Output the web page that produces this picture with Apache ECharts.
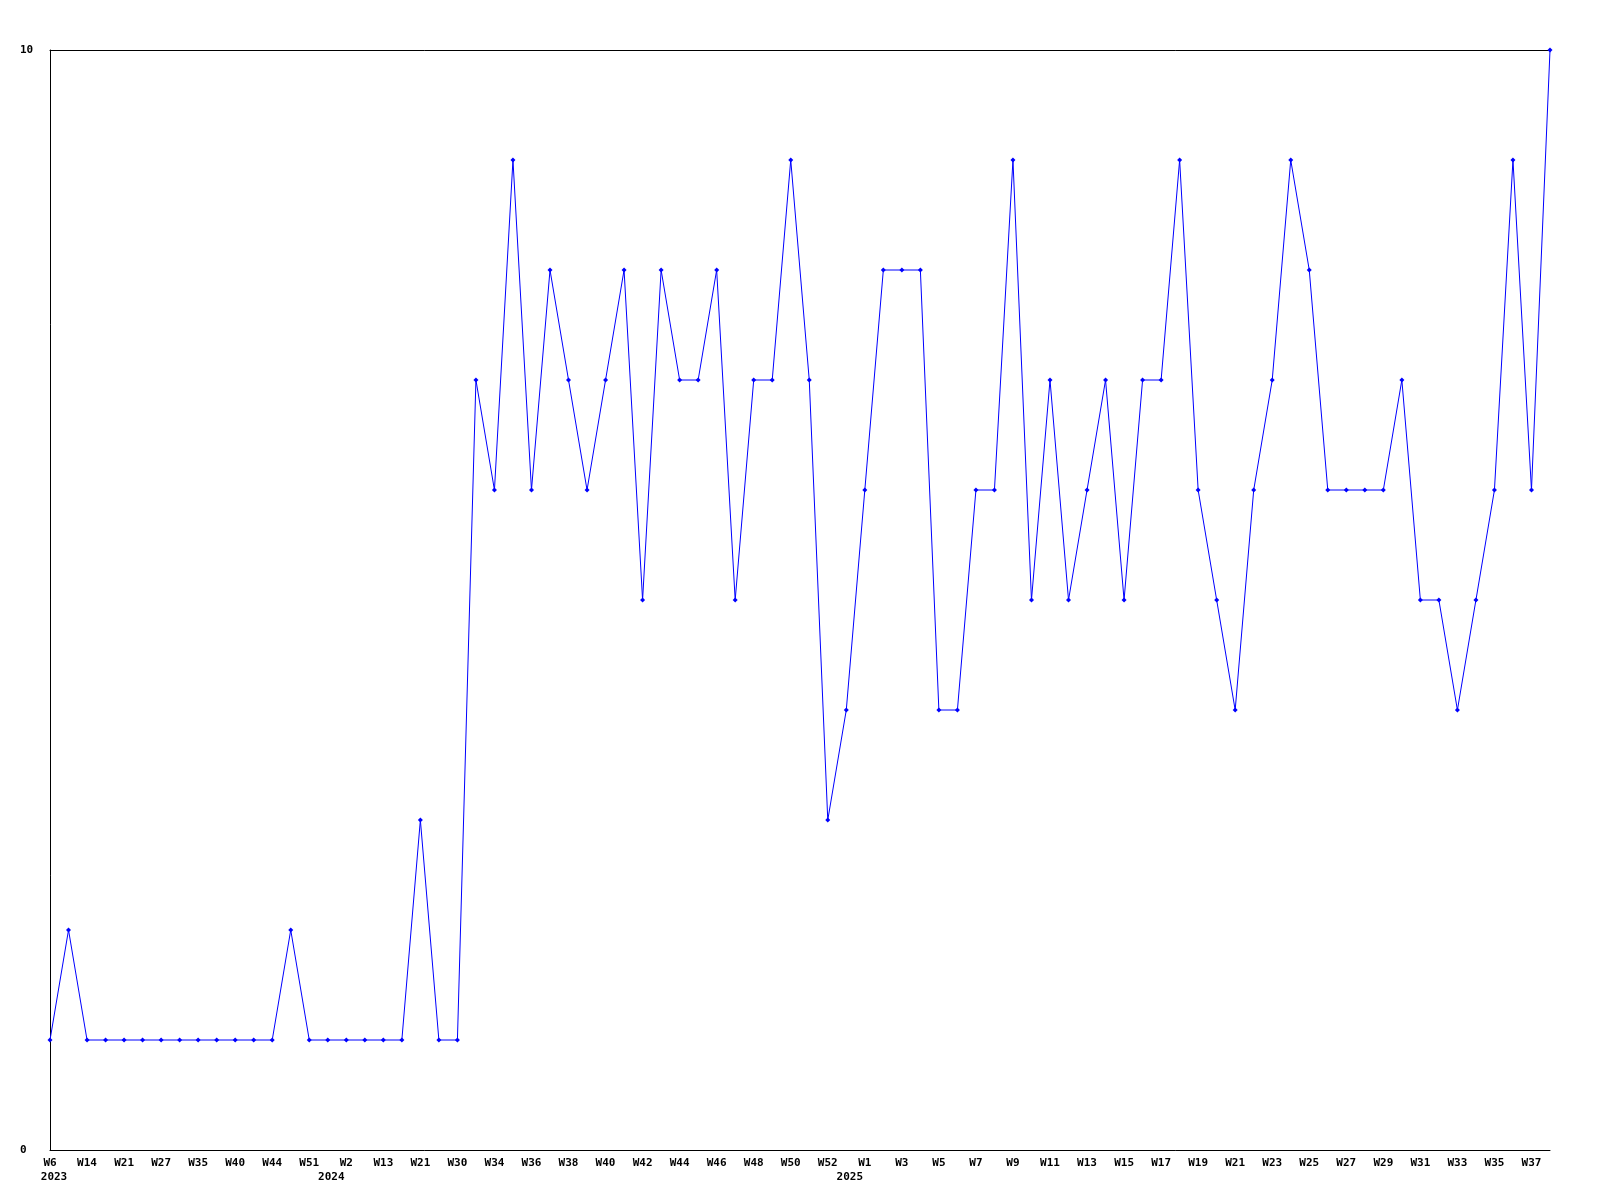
<!DOCTYPE html>
<html>
<head>
<meta charset="utf-8">
<script src="https://cdn.jsdelivr.net/npm/echarts@6/dist/echarts.min.js"></script>
<style>
html,body{margin:0;padding:0;background:#fff;}
#chart{width:1600px;height:1200px;}
</style>
</head>
<body>
<div id="chart"></div>
<script>
// Week categories (one per data point)
var weeks = [
  'W6','W10','W14','W17','W21','W24','W27','W31','W35','W38',
  'W40','W42','W44','W48','W51','W52','W2','W8','W13','W17',
  'W21','W26','W30','W32','W34','W35','W36','W37','W38','W39',
  'W40','W41','W42','W43','W44','W45','W46','W47','W48','W49',
  'W50','W51','W52','W53','W1','W2','W3','W4','W5','W6',
  'W7','W8','W9','W10','W11','W12','W13','W14','W15','W16',
  'W17','W18','W19','W20','W21','W22','W23','W24','W25','W26',
  'W27','W28','W29','W30','W31','W32','W33','W34','W35','W36',
  'W37','W38'
];
// Year shown under the first label of each year (by category index)
var yearIndex = [0, 16, 44];
var yearLabels = ['2023', '2024', '2025'];
// Series values
var values = [
  1,2,1,1,1,1,1,1,1,1,
  1,1,1,2,1,1,1,1,1,1,
  3,1,1,7,6,9,6,8,7,6,
  7,8,5,8,7,7,8,5,7,7,
  9,7,3,4,6,8,8,8,4,4,
  6,6,9,5,7,5,6,7,5,7,
  7,9,6,5,4,6,7,9,8,6,
  6,6,6,7,5,5,4,5,6,9,
  6,10
];
// Y-axis range / tick
var yMin = 0, yMax = 10, yStep = 10;

var FONT = 'DejaVu Sans Mono';
var chart = echarts.init(document.getElementById('chart'), null, {renderer: 'canvas'});
chart.setOption({
  animation: false,
  backgroundColor: '#ffffff',
  grid: {left: 50, right: 50, top: 50, bottom: 50, containLabel: false},
  xAxis: [{
    type: 'category',
    data: weeks,
    boundaryGap: false,
    position: 'bottom',
    axisLine: {show: true, lineStyle: {color: '#000', width: 1}},
    axisTick: {show: false},
    splitLine: {show: false},
    axisLabel: {
      interval: 1,
      margin: 6,
      color: '#000',
      fontFamily: FONT,
      fontWeight: 'bold',
      fontSize: 11,
      lineHeight: 14,
      formatter: function (v, idx) {
        var yi = yearIndex.indexOf(idx);
        if (yi >= 0) {
          return '{w|' + v + '}\n{' + (yi === 0 ? 'y0' : 'y') + '|' + yearLabels[yi] + '}';
        }
        return '{w|' + v + '}';
      },
      rich: {
        w: {fontFamily: FONT, fontWeight: 'bold', fontSize: 11, lineHeight: 14, color: '#000'},
        y: {fontFamily: FONT, fontWeight: 'bold', fontSize: 11, lineHeight: 14, color: '#000', padding: [0, 30, 0, 0]},
        y0: {fontFamily: FONT, fontWeight: 'bold', fontSize: 11, lineHeight: 14, color: '#000', padding: [0, 0, 0, 8]}
      }
    }
  }, {
    type: 'category',
    data: weeks,
    boundaryGap: false,
    position: 'top',
    axisLine: {show: true, lineStyle: {color: '#000', width: 1}},
    axisTick: {show: false},
    axisLabel: {show: false},
    splitLine: {show: false}
  }],
  yAxis: {
    type: 'value',
    min: yMin,
    max: yMax,
    interval: yStep,
    axisLine: {show: true, lineStyle: {color: '#000', width: 1}},
    axisTick: {show: false},
    splitLine: {show: false},
    axisLabel: {
      align: 'left',
      margin: 30,
      color: '#000',
      fontFamily: FONT,
      fontWeight: 'bold',
      fontSize: 11
    }
  },
  series: [{
    type: 'line',
    data: values,
    xAxisIndex: 0,
    symbol: 'diamond',
    symbolSize: 5,
    showSymbol: true,
    showAllSymbol: true,
    clip: false,
    lineStyle: {color: '#0000ff', width: 1},
    itemStyle: {color: '#0000ff'}
  }]
});
</script>
</body>
</html>
